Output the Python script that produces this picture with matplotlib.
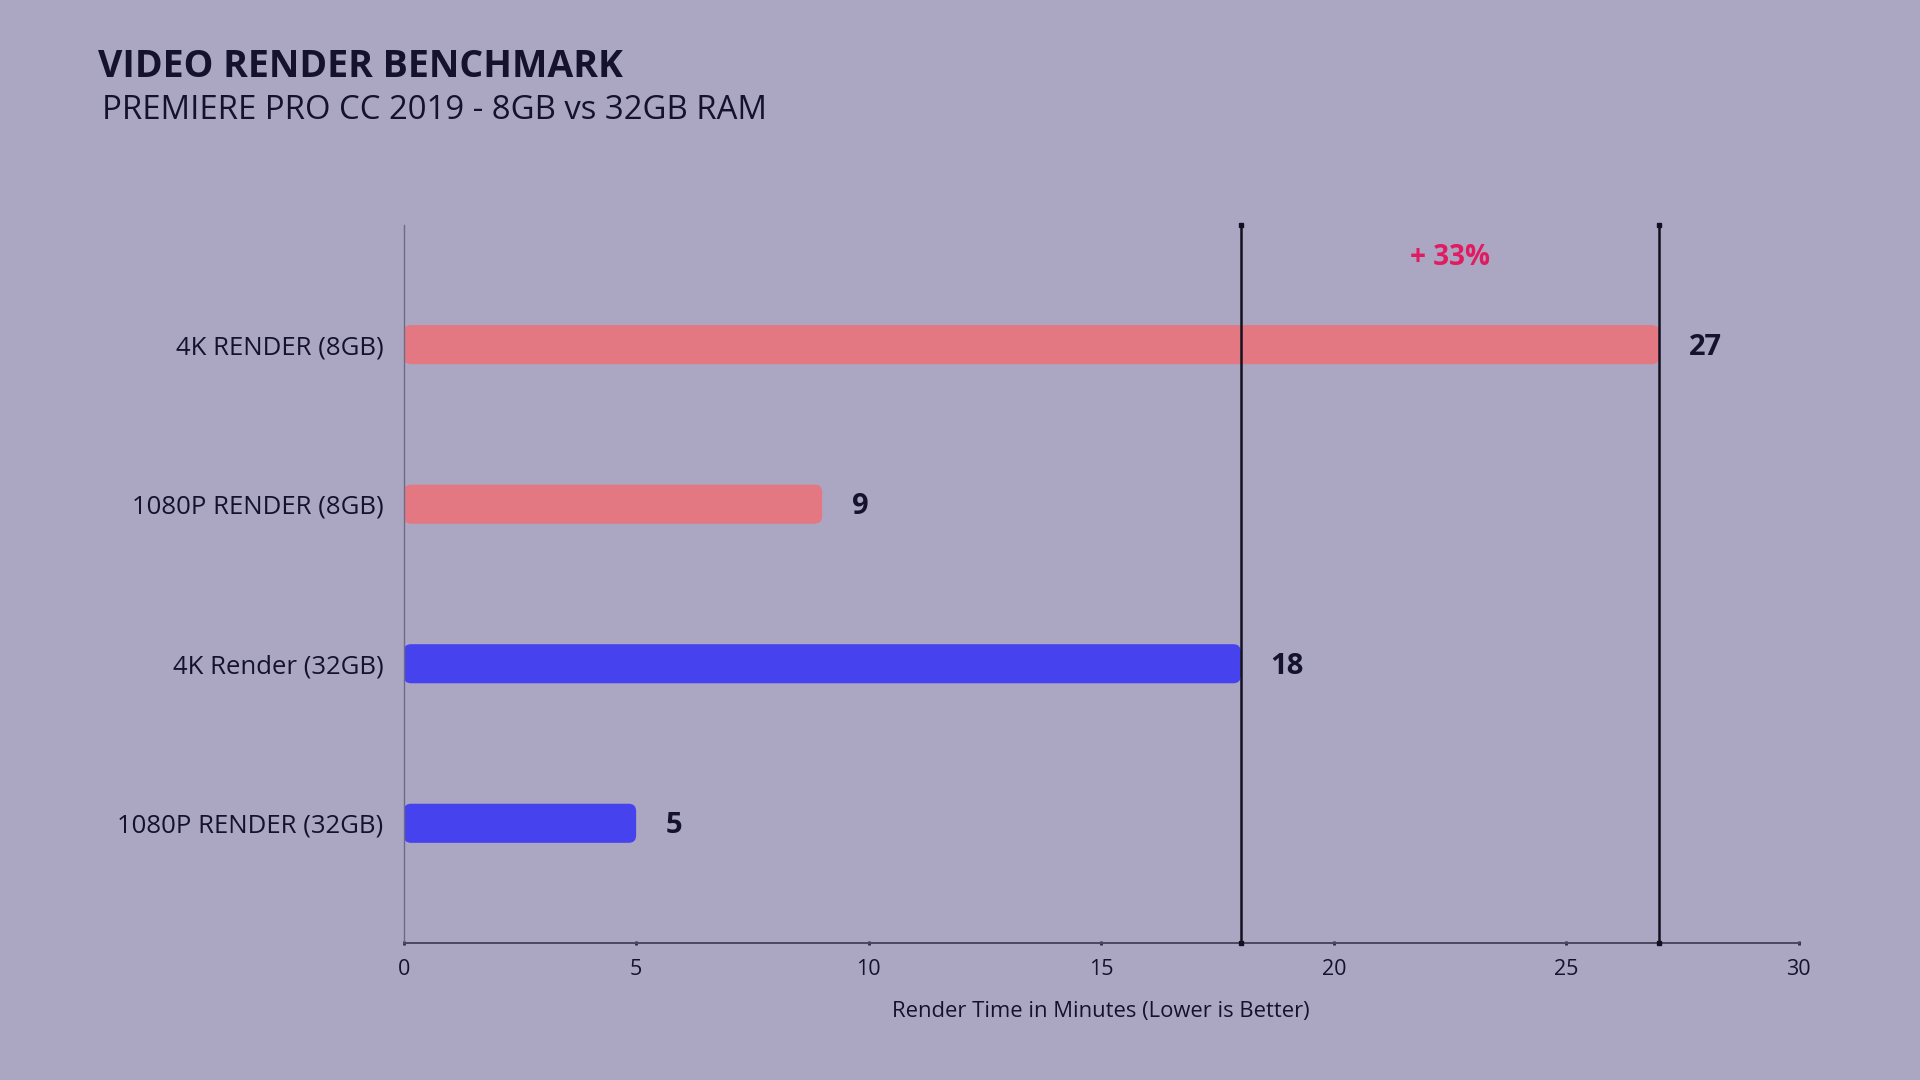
import matplotlib
matplotlib.use("Agg")
import matplotlib.pyplot as plt
from matplotlib.patches import FancyBboxPatch

categories = ["4K RENDER (8GB)", "1080P RENDER (8GB)", "4K Render (32GB)", "1080P RENDER (32GB)"]
values = [27, 9, 18, 5]
bar_colors = ["#E37883", "#E37883", "#4542EE", "#4542EE"]
ref_lines = [18, 27]
xticks = [0, 5, 10, 15, 20, 25, 30]
title = "VIDEO RENDER BENCHMARK"
subtitle = "PREMIERE PRO CC 2019 - 8GB vs 32GB RAM"
xlabel = "Render Time in Minutes (Lower is Better)"
diff_label = "+ 33%"

BG = "#ABA7C2"
TXT = "#15132B"
FONT = "Open Sans"

plt.rcParams["font.family"] = [FONT, "DejaVu Sans"]

fig = plt.figure(figsize=(19.2, 10.8), dpi=100)
fig.patch.set_facecolor(BG)
ax = fig.add_axes([0.2102, 0.1269, 0.7267, 0.6648])
ax.set_facecolor(BG)

ypos = list(range(len(categories)))
bars = ax.barh(ypos, values, height=0.245, color=bar_colors, zorder=2)
ax.set_xlim(0, 30)
ax.set_ylim(3.75, -0.75)

# replace bars by rounded versions
aspect = (4.5 / 718.0) / (30 / 1395.3)
for b in bars:
    x0, y0 = b.get_x(), b.get_y()
    w, h = b.get_width(), b.get_height()
    p = FancyBboxPatch((x0, y0), w, h,
                       boxstyle="round,pad=0,rounding_size=0.16",
                       mutation_aspect=aspect,
                       facecolor=b.get_facecolor(), edgecolor="none", zorder=2)
    ax.add_patch(p)
    b.set_visible(False)

# value labels
for y, v in zip(ypos, values):
    ax.annotate(str(v), (v, y), xytext=(21.5, -1.8), textcoords="offset points",
                ha="left", va="center", fontsize=21, fontweight="bold", color=TXT)

# reference lines
for x in ref_lines:
    ax.plot([x, x], [3.75, -0.75], color="#111120", lw=1.8, zorder=3,
            marker="s", markersize=3.2, clip_on=False)

ax.text(sum(ref_lines) / 2, -0.545, diff_label, ha="center", va="center",
        fontsize=20, fontweight="bold", color="#E01B60")

# axes styling
for s in ["top", "right"]:
    ax.spines[s].set_visible(False)
ax.spines["left"].set_color("#6E6A86")
ax.spines["left"].set_linewidth(1.0)
ax.spines["bottom"].set_color("#4A475E")
ax.spines["bottom"].set_linewidth(1.4)

ax.set_xticks(xticks)
ax.set_xticklabels([str(t) for t in xticks])
ax.tick_params(axis="x", length=3, width=2, color="#2A2840", pad=10,
               labelsize=15.5, labelcolor=TXT, direction="inout")
ax.set_yticks(ypos)
ax.set_yticklabels(categories)
ax.tick_params(axis="y", length=0, pad=14.5, labelsize=18.5, labelcolor=TXT)
ax.set_xlabel(xlabel, fontsize=15.8, color=TXT, labelpad=15.5)

fig.text(0.051, 0.938, title, ha="left", va="center", fontsize=27,
         fontweight="bold", color=TXT)
fig.text(0.053, 0.898, subtitle, ha="left", va="center", fontsize=23.7,
         color=TXT)

fig.savefig("out.png", dpi=100, facecolor=BG)
